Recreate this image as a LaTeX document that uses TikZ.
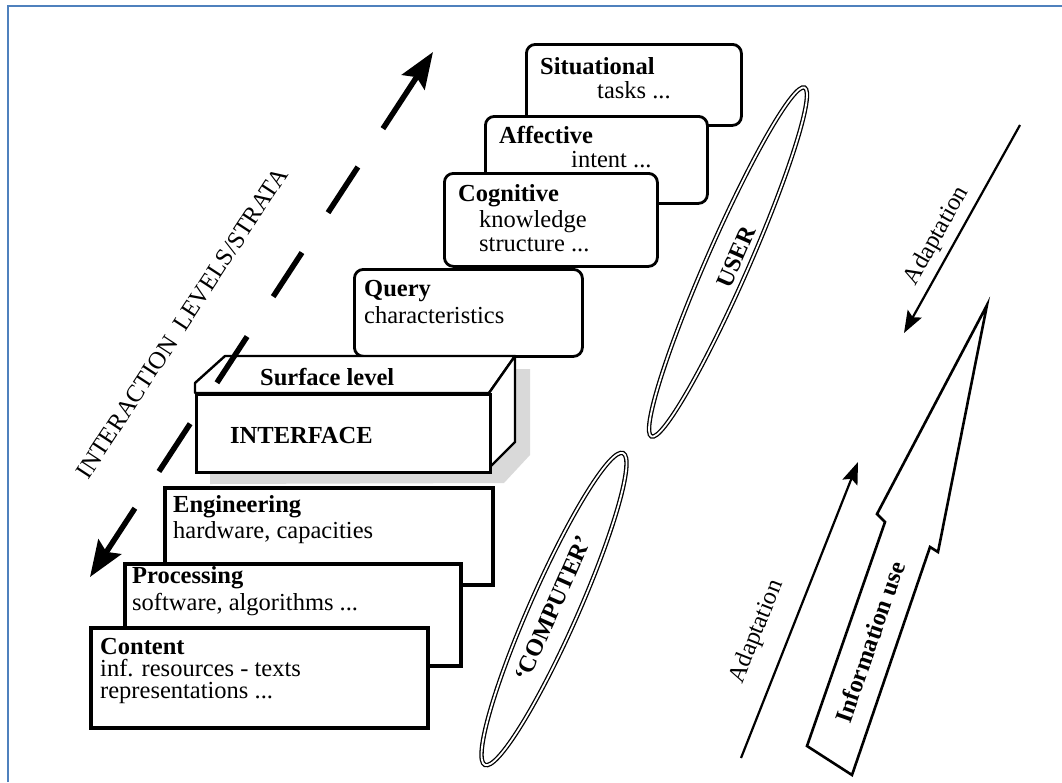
\documentclass[tikz,border=0pt]{standalone}
\usepackage{fontspec}
\setmainfont{Liberation Serif}
\usetikzlibrary{shapes.geometric,arrows.meta,calc}
\definecolor{framebl}{HTML}{4F81BD}
\definecolor{shadowgr}{HTML}{D9D9D9}
\begin{document}
\begin{tikzpicture}[x=1pt,y=-1pt,
  txt/.style={font=\fontsize{24.5}{26}\selectfont, inner sep=0pt, anchor=base west},
  btxt/.style={font=\fontsize{24.5}{26}\selectfont\bfseries, inner sep=0pt, anchor=base west},
  ubox/.style={draw, line width=2.8pt, rounded corners=9pt, fill=white, anchor=north west, inner sep=0pt},
  lbox/.style={draw, line width=3.8pt, fill=white, anchor=north west, inner sep=0pt},
  dasharrow/.style={line width=5.5pt},
  bighead/.style={-{Stealth[length=36pt,width=27pt,inset=6pt]}},
  thinarrow/.style={line width=2.2pt, -{Stealth[length=22pt,width=16pt,inset=4pt]}},
  lens/.style={ellipse, draw, line width=1.3pt, double, double distance=1.8pt, inner sep=0pt},
]
\useasboundingbox (0,0) rectangle (1062,782);
% frame
\draw[framebl, line width=2pt] (8,782) -- (8,6) -- (1062,6);

% ---------- upper (user side) boxes ----------
\node[ubox, minimum width=215pt, minimum height=81pt] (sit) at (525,43) {};
\node[btxt] (sitT) at (540,74) {Situational};
\node[txt]  (sitB) at (597,98) {tasks ...};

\node[ubox, minimum width=222pt, minimum height=87pt] (aff) at (484,115) {};
\node[btxt] (affT) at (499,143) {Affective};
\node[txt]  (affB) at (571,167) {intent ...};

\node[ubox, minimum width=213pt, minimum height=93pt] (cog) at (443,172) {};
\node[btxt] (cogT) at (458,201) {Cognitive};
\node[txt]  (cogB) at (479,227) {knowledge};
\node[txt]  (cogC) at (479,251) {structure ...};

\node[ubox, minimum width=228pt, minimum height=87pt] (qry) at (353,268) {};
\node[btxt] (qryT) at (364,296) {Query};
\node[txt]  (qryB) at (364,323) {characteristics};

% ---------- surface level / interface block ----------
\fill[shadowgr] (210,396) -- (240,369) -- (530,369) -- (530,455) -- (504,483) -- (210,484) -- cycle;
\draw[line width=2.4pt, fill=white, line join=round] (195,393) -- (195,383) -- (225,356) -- (515,356) -- (489,393) -- cycle;
\draw[line width=2.4pt, fill=white, line join=round] (489,393) -- (515,356) -- (515,442) -- (489,468) -- cycle;
\node[lbox, line width=3.4pt, minimum width=294pt, minimum height=78pt] (iface) at (195,393) {};
\node[btxt] (surfT) at (260,385) {Surface level};
\node[btxt] (ifaceT) at (230,443) {INTERFACE};

% ---------- lower (system side) boxes ----------
\node[lbox, minimum width=328pt, minimum height=97pt] (eng) at (163,486) {};
\node[btxt] (engT) at (173,512) {Engineering};
\node[txt]  (engB) at (173,538) {hardware, capacities};

\node[lbox, minimum width=336pt, minimum height=102pt] (proc) at (123,562) {};
\node[btxt] (procT) at (132,583) {Processing};
\node[txt]  (procB) at (132,610) {software, algorithms ...};

\node[lbox, minimum width=337pt, minimum height=100pt] (cont) at (89,626) {};
\node[btxt] (contT) at (100,654) {Content};
\node[txt]  (contB) at (100,676) {inf. resources - texts};
\node[txt]  (contC) at (100,698) {representations ...};

% ---------- interaction levels dashed double arrow ----------
\coordinate (dB) at (90,577);
\coordinate (dT) at (433,52);
\draw[dasharrow, bighead] ($(dB)!0.131!(dT)$) -- (dB);
\draw[dasharrow] ($(dB)!0.201!(dT)$) -- ($(dB)!0.292!(dT)$);
\draw[dasharrow] ($(dB)!0.370!(dT)$) -- ($(dB)!0.458!(dT)$);
\draw[dasharrow] ($(dB)!0.534!(dT)$) -- ($(dB)!0.618!(dT)$);
\draw[dasharrow] ($(dB)!0.694!(dT)$) -- ($(dB)!0.781!(dT)$);
\draw[dasharrow, bighead] ($(dB)!0.854!(dT)$) -- (dT);
\node[font=\fontsize{24.5}{26}\selectfont, rotate=56.8, inner sep=0pt] (strata) at (182,323) {INTERACTION\ \ LEVELS/STRATA};

% ---------- USER and COMPUTER ellipses ----------
\node[lens, rotate=66.3, minimum width=381pt, minimum height=42pt] (user) at (728,262) {};
\node[font=\fontsize{24}{26}\selectfont\bfseries, rotate=66.3, inner sep=0pt] (userT) at (736,257) {USER};
\node[lens, rotate=66.1, minimum width=341pt, minimum height=48pt] (comp) at (554,609) {};
\node[font=\fontsize{24}{26}\selectfont\bfseries, rotate=66.1, inner sep=0pt] (compT) at (553,608) {‘COMPUTER’};

% ---------- adaptation arrows ----------
\coordinate (a1s) at (1020,125);
\coordinate (a1e) at (904,333);
\draw[thinarrow] (a1s) -- (a1e);
\node[font=\fontsize{24.5}{26}\selectfont, rotate=60.5, inner sep=0pt] (ad1) at (937,236) {Adaptation};

\coordinate (a2s) at (741,758);
\coordinate (a2e) at (858,462);
\draw[thinarrow] (a2s) -- (a2e);
\node[font=\fontsize{24.5}{26}\selectfont, rotate=68.4, inner sep=0pt] (ad2) at (757,632) {Adaptation};

% ---------- information use hollow arrow ----------
\draw[line width=2.6pt, fill=white, line join=miter] (987,305) -- (877,514) -- (885,522) -- (807,746) -- (852,775) -- (930,547) -- (938,552) -- cycle;
\node[font=\fontsize{24.5}{26}\selectfont\bfseries, rotate=70.8, inner sep=0pt] (info) at (870,642) {Information use};
\end{tikzpicture}
\end{document}
